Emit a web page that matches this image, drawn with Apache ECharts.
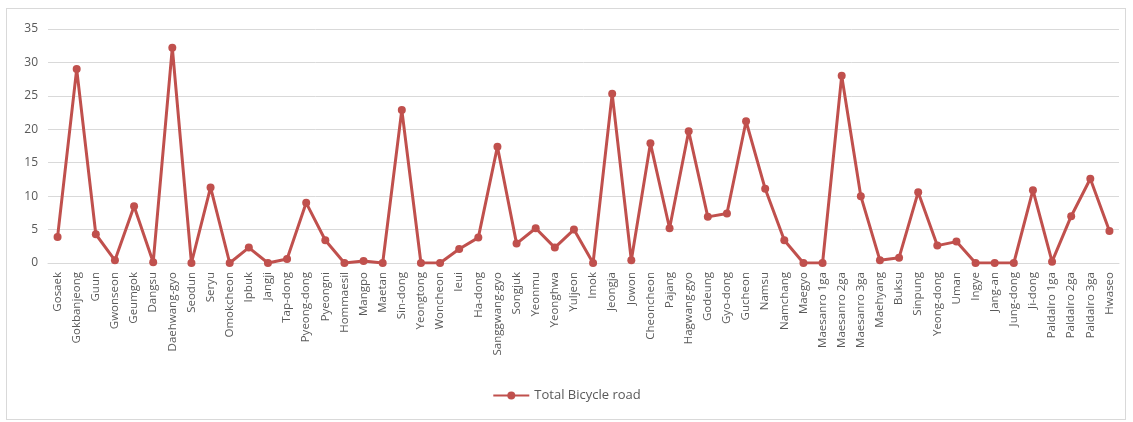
<!DOCTYPE html>
<html>
<head>
<meta charset="utf-8">
<script src="https://cdn.jsdelivr.net/npm/echarts@6/dist/echarts.min.js"></script>
<style>
html,body{margin:0;padding:0;background:#fff;}
#frame{position:absolute;left:6px;top:8px;width:1120px;height:412px;border:1px solid #d9d9d9;box-sizing:border-box;}
#chart{position:absolute;left:0;top:0;width:1133px;height:422px;}
</style>
</head>
<body>
<div id="frame"></div>
<div id="chart"></div>
<script>
const categories = ["Gosaek","Gokbanjeong","Guun","Gwonseon","Geumgok","Dangsu","Daehwang-gyo","Seodun","Seryu","Omokcheon","Ipbuk","Jangji","Tap-dong","Pyeong-dong","Pyeongni","Hommaesil","Mangpo","Maetan","Sin-dong","Yeongtong","Woncheon","Ieui","Ha-dong","Sanggwang-gyo","Songjuk","Yeonmu","Yeonghwa","Yuljeon","Imok","Jeongja","Jowon","Cheoncheon","Pajang","Hagwang-gyo","Godeung","Gyo-dong","Gucheon","Namsu","Namchang","Maegyo","Maesanro 1ga","Maesanro 2ga","Maesanro 3ga","Maehyang","Buksu","Sinpung","Yeong-dong","Uman","Ingye","Jang-an","Jung-dong","Ji-dong","Paldalro 1ga","Paldalro 2ga","Paldalro 3ga","Hwaseo"];
const totalBicycleRoad = [3.9,29.0,4.3,0.4,8.5,0.1,32.2,0,11.3,0,2.3,0,0.6,9.0,3.4,0,0.3,0,22.9,0,0,2.1,3.8,17.4,2.9,5.2,2.3,5.0,0,25.3,0.4,17.9,5.2,19.7,6.9,7.4,21.2,11.1,3.4,0,0,28.0,10.0,0.4,0.8,10.6,2.6,3.2,0,0,0,10.9,0.2,7.0,12.6,4.8];
const seriesName = "Total Bicycle road";

const chart = echarts.init(document.getElementById('chart'));
chart.setOption({
  animation:false,
  textStyle:{fontFamily:"Open Sans"},
  grid:{left:48,right:14,top:29,bottom:159},
  legend:{
    top:384,left:'center',
    data:[seriesName],
    itemWidth:36,itemHeight:10,itemGap:4,
    textStyle:{color:'#595959',fontSize:13,fontFamily:'Open Sans'}
  },
  xAxis:{
    type:'category',
    data:categories,
    boundaryGap:true,
    axisLine:{show:true,lineStyle:{color:'#d9d9d9'}},
    axisTick:{show:false},
    axisLabel:{rotate:90,interval:0,color:'#595959',fontSize:11.5,margin:9,fontFamily:'Open Sans'}
  },
  yAxis:{
    type:'value',min:0,max:35,interval:5,
    axisLine:{show:false},axisTick:{show:false},
    axisLabel:{color:'#595959',fontSize:12,margin:10,fontFamily:'Open Sans'},
    splitLine:{lineStyle:{color:'#d9d9d9',width:1}}
  },
  series:[{
    name:seriesName,
    type:'line',
    data:totalBicycleRoad,
    symbol:'circle',symbolSize:8,
    lineStyle:{color:'#c0504d',width:3},
    itemStyle:{color:'#c0504d'}
  }]
});
</script>
</body>
</html>
